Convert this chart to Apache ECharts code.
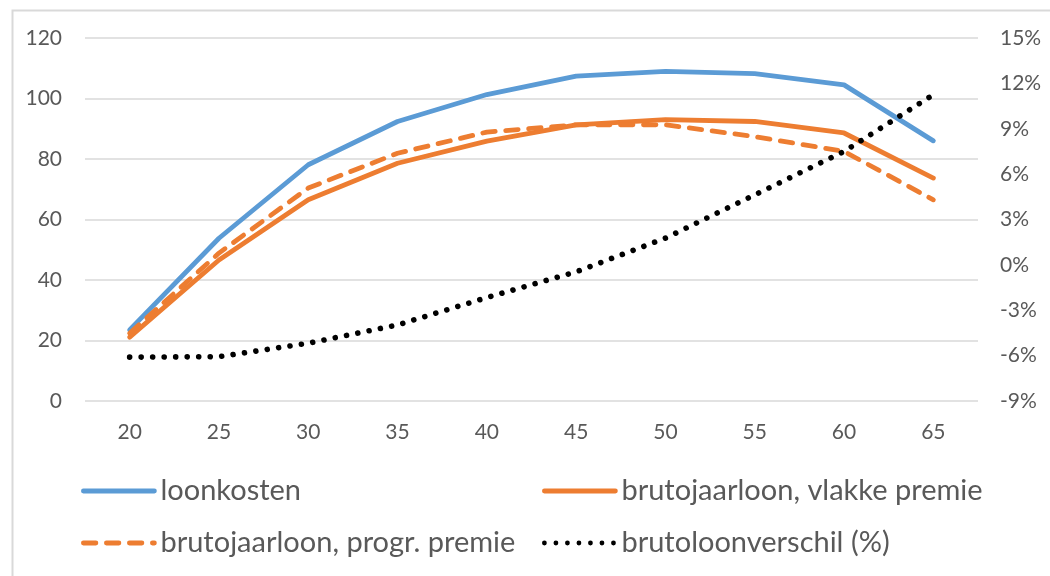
<!DOCTYPE html>
<html>
<head>
<meta charset="utf-8">
<script src="https://cdn.jsdelivr.net/npm/echarts@6/dist/echarts.min.js"></script>
<style>
html,body{margin:0;padding:0;background:#fff;}
#chart{width:1050px;height:576px;}
</style>
</head>
<body>
<div id="chart"></div>
<script>
const ages = ['20','25','30','35','40','45','50','55','60','65'];
const loonkosten = [23.5, 53.8, 78.1, 92.4, 101.3, 107.4, 109.0, 108.2, 104.5, 86.0];
const vlakkePremie = [21.1, 46.6, 66.5, 78.6, 85.9, 91.3, 93.0, 92.4, 88.6, 73.7];
const progrPremie = [22.4, 48.9, 70.4, 81.9, 88.9, 91.3, 91.3, 87.4, 82.5, 66.5];
const brutoloonverschil = [-6.1, -6.07, -5.18, -3.97, -2.16, -0.46, 1.77, 4.63, 7.5, 11.25];
const leftTicks = {min: 0, max: 120, interval: 20};
const rightTicks = {min: -9, max: 15, interval: 3};
const names = ['loonkosten', 'brutojaarloon, vlakke premie', 'brutojaarloon, progr. premie', 'brutoloonverschil (%)'];

const FONT = 'Lato';
const TXT = '#595959';
const chart = echarts.init(document.getElementById('chart'), null, {renderer: 'canvas'});
const legendCommon = {
  orient: 'vertical',
  top: 476,
  padding: 0,
  itemWidth: 71,
  itemHeight: 14,
  itemGap: 22,
  selectedMode: false,
  itemStyle: {opacity: 0},
  lineStyle: {width: 4.8},
  textStyle: {color: TXT, fontFamily: FONT, fontSize: 29, lineHeight: 30, padding: [0, 0, 0, 1]}
};
chart.setOption({
  animation: false,
  backgroundColor: '#fff',
  graphic: [{
    type: 'rect', left: 10, top: 8, silent: true,
    shape: {width: 1100, height: 620},
    style: {fill: 'none', stroke: '#d9d9d9', lineWidth: 2}
  }],
  grid: {left: 85, right: 72, top: 38, bottom: 175},
  legend: [
    Object.assign({left: 81, data: [names[0], names[2]]}, legendCommon),
    Object.assign({left: 542, data: [names[1], names[3]]}, legendCommon)
  ],
  xAxis: {
    type: 'category',
    data: ages,
    boundaryGap: true,
    axisLine: {show: false},
    axisTick: {show: false},
    axisLabel: {color: TXT, fontFamily: FONT, fontSize: 21, margin: 21}
  },
  yAxis: [{
    type: 'value',
    min: leftTicks.min, max: leftTicks.max, interval: leftTicks.interval,
    axisLine: {show: false}, axisTick: {show: false},
    splitLine: {lineStyle: {color: '#d9d9d9', width: 1.5}},
    axisLabel: {color: TXT, fontFamily: FONT, fontSize: 21, margin: 23}
  }, {
    type: 'value',
    min: rightTicks.min, max: rightTicks.max, interval: rightTicks.interval,
    axisLine: {show: false}, axisTick: {show: false},
    splitLine: {show: false},
    axisLabel: {color: TXT, fontFamily: FONT, fontSize: 21, margin: 22, formatter: '{value}%'}
  }],
  series: [{
    name: names[0], type: 'line', data: loonkosten, yAxisIndex: 0,
    symbol: 'none', color: '#5B9BD5',
    lineStyle: {width: 4.8, color: '#5B9BD5', cap: 'round', join: 'round'}
  }, {
    name: names[1], type: 'line', data: vlakkePremie, yAxisIndex: 0,
    symbol: 'none', color: '#ED7D31',
    lineStyle: {width: 4.8, color: '#ED7D31', cap: 'round', join: 'round'}
  }, {
    name: names[2], type: 'line', data: progrPremie, yAxisIndex: 0,
    symbol: 'none', color: '#ED7D31',
    lineStyle: {width: 4.8, color: '#ED7D31', type: [12.5, 10.5], cap: 'round', join: 'round'}
  }, {
    name: names[3], type: 'line', data: brutoloonverschil, yAxisIndex: 1,
    symbol: 'none', color: '#000',
    lineStyle: {width: 5.6, color: '#000', type: [0.01, 11.5], cap: 'round', join: 'round'}
  }]
});
</script>
</body>
</html>
